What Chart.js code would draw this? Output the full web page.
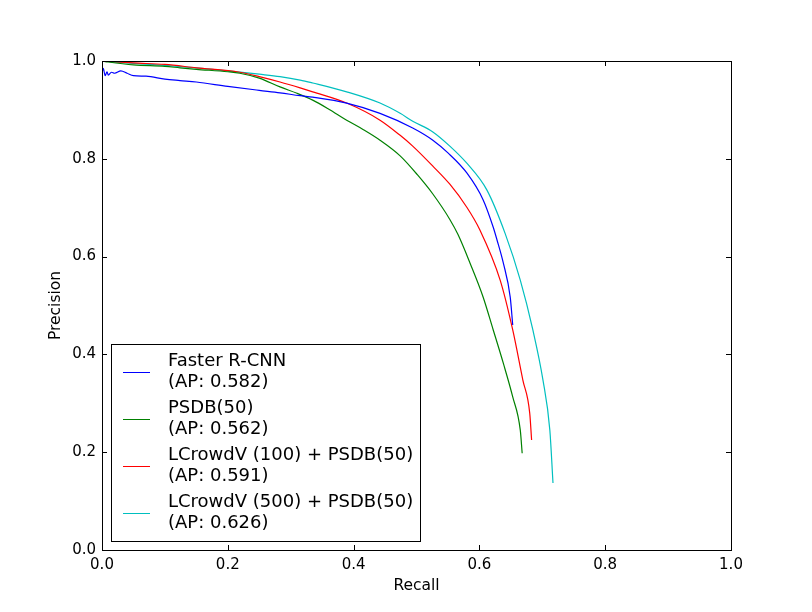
<!DOCTYPE html>
<html>
<head>
<meta charset="utf-8">
<script src="https://cdn.jsdelivr.net/npm/chart.js@4/dist/chart.umd.min.js"></script>
<style>
  html, body { margin: 0; padding: 0; background: #ffffff; }
  #wrap { width: 812px; height: 612px; }
</style>
</head>
<body>
<div id="wrap"><canvas id="prChart" width="812" height="612"></canvas></div>
<script>
// precision / recall curves
const fasterRecall = [0.0, 0.002, 0.005, 0.008, 0.01, 0.015, 0.02, 0.03, 0.04, 0.05, 0.07, 0.1, 0.124, 0.15, 0.2, 0.25, 0.283, 0.315, 0.335, 0.389, 0.442, 0.494, 0.526, 0.55, 0.58, 0.606, 0.622, 0.628, 0.638, 0.649, 0.653];
const fasterPrecision = [0.975, 0.985, 0.97, 0.978, 0.971, 0.977, 0.975, 0.98, 0.975, 0.97, 0.969, 0.963, 0.96, 0.957, 0.948, 0.94, 0.935, 0.929, 0.926, 0.914, 0.893, 0.863, 0.838, 0.812, 0.771, 0.716, 0.66, 0.634, 0.587, 0.517, 0.46];

const psdbRecall = [0.0, 0.01, 0.05, 0.1, 0.124, 0.15, 0.2, 0.219, 0.25, 0.283, 0.31, 0.335, 0.36, 0.389, 0.415, 0.442, 0.474, 0.501, 0.526, 0.553, 0.566, 0.585, 0.606, 0.622, 0.638, 0.653, 0.665, 0.668];
const psdbPrecision = [1.0, 0.998, 0.992, 0.989, 0.986, 0.983, 0.978, 0.975, 0.965, 0.947, 0.934, 0.92, 0.902, 0.879, 0.86, 0.838, 0.806, 0.768, 0.728, 0.676, 0.645, 0.587, 0.517, 0.45, 0.382, 0.313, 0.245, 0.198];

const lc100Recall = [0.0, 0.05, 0.1, 0.15, 0.219, 0.25, 0.283, 0.315, 0.335, 0.389, 0.442, 0.474, 0.494, 0.526, 0.553, 0.58, 0.601, 0.633, 0.653, 0.669, 0.68, 0.683];
const lc100Precision = [1.0, 0.996, 0.993, 0.986, 0.977, 0.968, 0.957, 0.945, 0.937, 0.914, 0.879, 0.848, 0.826, 0.785, 0.748, 0.701, 0.654, 0.552, 0.45, 0.348, 0.28, 0.225];

const lc500Recall = [0.0, 0.05, 0.1, 0.15, 0.2, 0.25, 0.283, 0.315, 0.335, 0.389, 0.442, 0.474, 0.494, 0.526, 0.553, 0.58, 0.612, 0.641, 0.665, 0.685, 0.701, 0.712, 0.717];
const lc500Precision = [1.0, 0.995, 0.991, 0.986, 0.98, 0.973, 0.968, 0.961, 0.955, 0.937, 0.914, 0.893, 0.877, 0.855, 0.826, 0.791, 0.736, 0.647, 0.552, 0.45, 0.348, 0.245, 0.137];

const seriesLabels = [
    ['Faster R-CNN', '(AP: 0.582)'],
    ['PSDB(50)', '(AP: 0.562)'],
    ['LCrowdV (100) + PSDB(50)', '(AP: 0.591)'],
    ['LCrowdV (500) + PSDB(50)', '(AP: 0.626)']
];
const seriesColors = ['#0000ff', '#008000', '#ff0000', '#00bfbf'];
const tickValues = [0.0, 0.2, 0.4, 0.6, 0.8, 1.0];

const FONT = 'DejaVu Sans';
const FONT_SIZE = 15;
const TITLE_SIZE = 15.5;
const LEGEND_SIZE = 18;

function toPoints(xs, ys) {
    return xs.map((x, i) => ({ x: x, y: ys[i] }));
}

const curves = [
    toPoints(fasterRecall, fasterPrecision),
    toPoints(psdbRecall, psdbPrecision),
    toPoints(lc100Recall, lc100Precision),
    toPoints(lc500Recall, lc500Precision)
];

// frame + inward ticks on all four sides, like old matplotlib
const framePlugin = {
    id: 'frame',
    afterDatasetsDraw(chart) {
        const ctx = chart.ctx;
        const a = chart.chartArea;
        const xs = chart.scales.x, ys = chart.scales.y;
        const len = 5;
        ctx.save();
        ctx.strokeStyle = '#000';
        ctx.lineWidth = 1;
        ctx.beginPath();
        tickValues.forEach(v => {
            const px = Math.round(xs.getPixelForValue(v)) + 0.5;
            ctx.moveTo(px, a.bottom); ctx.lineTo(px, a.bottom - len);
            ctx.moveTo(px, a.top); ctx.lineTo(px, a.top + len);
            const py = Math.round(ys.getPixelForValue(v)) + 0.5;
            ctx.moveTo(a.left, py); ctx.lineTo(a.left + len, py);
            ctx.moveTo(a.right, py); ctx.lineTo(a.right - len, py);
        });
        ctx.stroke();
        ctx.strokeRect(Math.round(a.left) + 0.5, Math.round(a.top) + 0.5,
            Math.round(a.right - a.left), Math.round(a.bottom - a.top));
        ctx.restore();
    }
};

// legend box in the lower left corner of the plot
const legendPlugin = {
    id: 'boxLegend',
    afterDraw(chart) {
        const ctx = chart.ctx;
        const a = chart.chartArea;
        const lineGap = 21, entryGap = 47;
        ctx.save();
        ctx.font = LEGEND_SIZE + 'px "' + FONT + '"';
        let maxW = 0;
        chart.data.datasets.forEach(ds => ds.label.forEach(t => {
            maxW = Math.max(maxW, ctx.measureText(t).width);
        }));
        const n = chart.data.datasets.length;
        const left = Math.round(a.left) + 9;
        const bottom = Math.round(a.bottom) - 9;
        const height = 17 + (n - 1) * entryGap + lineGap + 18;
        const top = bottom - height;
        const width = Math.round(57 + maxW + 7);
        ctx.fillStyle = '#fff';
        ctx.fillRect(left, top, width, height);
        ctx.strokeStyle = '#000';
        ctx.lineWidth = 1;
        ctx.strokeRect(left + 0.5, top + 0.5, width, height);
        ctx.textBaseline = 'middle';
        ctx.textAlign = 'left';
        chart.data.datasets.forEach((ds, i) => {
            const y0 = top + 17 + i * entryGap;
            ctx.strokeStyle = ds.borderColor;
            ctx.beginPath();
            const ly = Math.round(y0 + lineGap / 2) + 0.5;
            ctx.moveTo(left + 12, ly);
            ctx.lineTo(left + 39, ly);
            ctx.stroke();
            ctx.fillStyle = '#000';
            ds.label.forEach((t, k) => ctx.fillText(t, left + 57, y0 + k * lineGap));
        });
        ctx.restore();
    }
};

new Chart(document.getElementById('prChart'), {
    type: 'scatter',
    data: {
        datasets: curves.map((pts, i) => ({
            label: seriesLabels[i],
            data: pts,
            showLine: true,
            borderColor: seriesColors[i],
            backgroundColor: seriesColors[i],
            borderWidth: 1.2,
            pointRadius: 0,
            cubicInterpolationMode: 'monotone'
        }))
    },
    options: {
        responsive: false,
        animation: false,
        events: [],
        layout: { padding: { left: 0, top: 61, right: 81, bottom: 0 } },
        plugins: {
            legend: { display: false },
            tooltip: { enabled: false }
        },
        scales: {
            x: {
                type: 'linear',
                min: 0, max: 1,
                afterFit(scale) { scale.height = 62; },
                afterBuildTicks(scale) { scale.ticks = tickValues.map(v => ({ value: v })); },
                grid: { display: false, drawTicks: false },
                border: { display: false },
                ticks: {
                    padding: 6,
                    color: '#000',
                    font: { family: FONT, size: FONT_SIZE },
                    callback: v => v.toFixed(1)
                },
                title: {
                    display: true,
                    text: 'Recall',
                    color: '#000',
                    font: { family: FONT, size: TITLE_SIZE },
                    padding: { top: 0, bottom: 17 }
                }
            },
            y: {
                type: 'linear',
                min: 0, max: 1,
                afterFit(scale) { scale.width = 102; },
                afterBuildTicks(scale) { scale.ticks = tickValues.map(v => ({ value: v })); },
                grid: { display: false, drawTicks: false },
                border: { display: false },
                ticks: {
                    padding: 6,
                    color: '#000',
                    font: { family: FONT, size: FONT_SIZE },
                    callback: v => v.toFixed(1)
                },
                title: {
                    display: true,
                    text: 'Precision',
                    color: '#000',
                    font: { family: FONT, size: TITLE_SIZE },
                    padding: { top: 47, bottom: 0 }
                }
            }
        }
    },
    plugins: [framePlugin, legendPlugin]
});
</script>
</body>
</html>
